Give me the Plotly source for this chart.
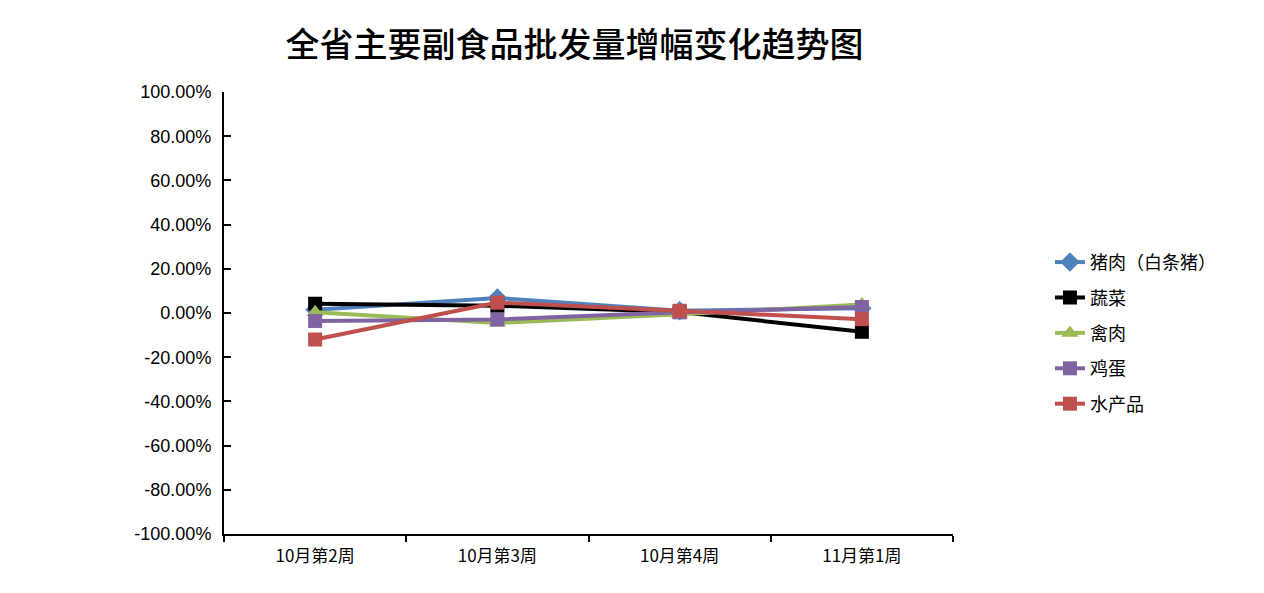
import plotly.graph_objects as go

# 周次
weeks = ["10月第2周", "10月第3周", "10月第4周", "11月第1周"]

# 各品种批发量增幅（%）
pork = [1.5, 6.8, 1.0, 2.2]
vegetables = [4.2, 3.3, 0.5, -8.5]
poultry = [0.3, -4.5, -0.6, 3.8]
eggs = [-3.6, -2.9, 0.3, 2.7]
aquatic = [-12.0, 4.7, 1.0, -2.8]

y_ticks = [-100, -80, -60, -40, -20, 0, 20, 40, 60, 80, 100]
y_tick_text = [f"{v:.2f}%" for v in y_ticks]

SERIES = [
    ("猪肉（白条猪）", pork, "#4F81BD", "diamond", 15),
    ("蔬菜", vegetables, "#000000", "square", 14),
    ("禽肉", poultry, "#9BBB59", "triangle-up", 15),
    ("鸡蛋", eggs, "#8064A2", "square", 14),
    ("水产品", aquatic, "#C0504D", "square", 14),
]

fig = go.Figure()
for name, vals, color, symbol, msize in SERIES:
    fig.add_trace(go.Scatter(
        x=weeks,
        y=vals,
        name=name,
        legendgroup=name,
        mode="lines+markers",
        line=dict(color=color, width=4),
        marker=dict(symbol=symbol, size=msize, color=color),
    ))

fig.update_layout(
    title=dict(
        text="全省主要副食品批发量增幅变化趋势图",
        x=0.454, xanchor="center", y=0.935, yanchor="middle",
        font=dict(family="Noto Sans CJK SC", size=34, color="#000000", weight=500),
    ),
    xaxis=dict(
        type="category",
        range=[-0.5, 3.5],
        showline=True, linecolor="#000000", linewidth=2,
        ticks="outside", tickson="boundaries", ticklen=6, tickcolor="#000000", tickwidth=1.5,
        ticklabelstandoff=6,
        showgrid=False, zeroline=False,
        tickfont=dict(family="Noto Sans CJK SC", size=17, color="#000000"),
    ),
    yaxis=dict(
        range=[-100, 100],
        tickvals=y_ticks, ticktext=y_tick_text,
        showline=True, linecolor="#000000", linewidth=2,
        ticks="inside", ticklen=7, tickcolor="#000000", tickwidth=1.5,
        ticklabelstandoff=7,
        showgrid=False, zeroline=False,
        tickfont=dict(family="Liberation Sans", size=18, color="#000000"),
    ),
    legend=dict(
        x=1.133, xanchor="left", y=0.455, yanchor="middle",
        font=dict(family="Noto Sans CJK SC", size=18, color="#000000"),
        tracegroupgap=9,
    ),
    margin=dict(l=216, r=303, t=84, b=51),
    width=1248, height=577,
    paper_bgcolor="white",
    plot_bgcolor="white",
)

fig.write_html("out.html")
